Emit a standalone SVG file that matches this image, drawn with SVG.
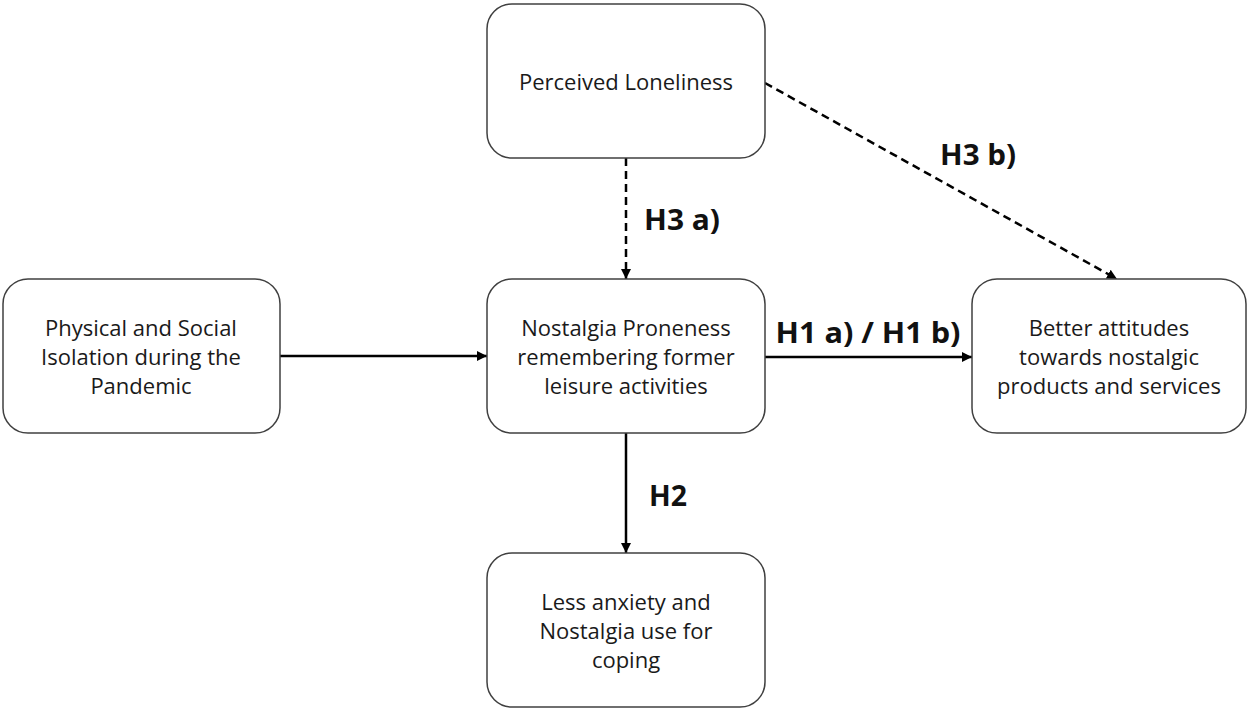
<svg xmlns="http://www.w3.org/2000/svg" width="1248" height="709" viewBox="0 0 1248 709">
<style>
.box{fill:#fff;stroke:#404040;stroke-width:1.5}
.t{font-family:"Open Sans","Liberation Sans",sans-serif;font-size:22px;fill:#1a1a1a;text-anchor:middle}
.l{font-family:"Open Sans","Liberation Sans",sans-serif;font-size:28px;font-weight:bold;fill:#111;text-anchor:middle}
.c{stroke:#000;stroke-width:2.5;fill:none}
.d{stroke-dasharray:8 5}
</style>
<defs>
<marker id="ah" viewBox="0 0 10 10" refX="10" refY="5" markerWidth="4" markerHeight="4" orient="auto" markerUnits="strokeWidth">
<path d="M0,0 L10,5 L0,10 z" fill="#000"/>
</marker>
</defs>
<rect width="1248" height="709" fill="#fff"/>
<g id="connectors">
<line class="c" x1="280" y1="356" x2="487" y2="356" marker-end="url(#ah)"/>
<line class="c" x1="765" y1="357" x2="972" y2="357" marker-end="url(#ah)"/>
<line class="c" x1="626" y1="433" x2="626" y2="553" marker-end="url(#ah)"/>
<line class="c d" x1="626" y1="158" x2="626" y2="279" marker-end="url(#ah)"/>
<line class="c d" x1="765" y1="83" x2="1117" y2="279" marker-end="url(#ah)"/>
<text class="l" x="682" y="230" textLength="76" lengthAdjust="spacingAndGlyphs">H3 a)</text>
<text class="l" x="978" y="165" textLength="76" lengthAdjust="spacingAndGlyphs">H3 b)</text>
<text class="l" x="868" y="343" textLength="185" lengthAdjust="spacingAndGlyphs">H1 a) / H1 b)</text>
<text class="l" x="668" y="506" textLength="38" lengthAdjust="spacingAndGlyphs">H2</text>
</g>
<g id="n_lonely">
<rect class="box" x="487" y="4" width="278" height="154" rx="25"/>
<text class="t" x="626" y="90">Perceived Loneliness</text>
</g>
<g id="n_isolation">
<rect class="box" x="3" y="279" width="277" height="154" rx="25"/>
<text class="t" x="141" y="336">Physical and Social</text>
<text class="t" x="141" y="365">Isolation during the</text>
<text class="t" x="141" y="394">Pandemic</text>
</g>
<g id="n_nostalgia">
<rect class="box" x="487" y="279" width="278" height="154" rx="25"/>
<text class="t" x="626" y="336">Nostalgia Proneness</text>
<text class="t" x="626" y="365">remembering former</text>
<text class="t" x="626" y="394">leisure activities</text>
</g>
<g id="n_attitudes">
<rect class="box" x="972" y="279" width="274" height="154" rx="25"/>
<text class="t" x="1109" y="336">Better attitudes</text>
<text class="t" x="1109" y="365">towards nostalgic</text>
<text class="t" x="1109" y="394">products and services</text>
</g>
<g id="n_coping">
<rect class="box" x="487" y="553" width="278" height="154" rx="25"/>
<text class="t" x="626" y="610">Less anxiety and</text>
<text class="t" x="626" y="639">Nostalgia use for</text>
<text class="t" x="626" y="668">coping</text>
</g>
</svg>
